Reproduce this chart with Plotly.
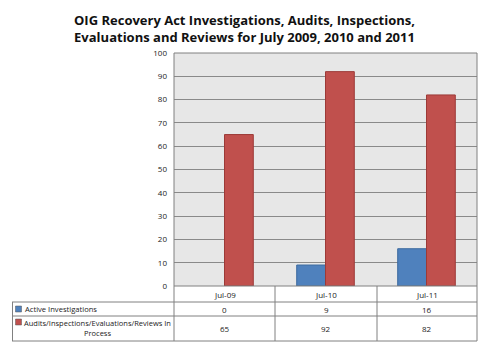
import plotly.graph_objects as go

categories = ["Jul-09", "Jul-10", "Jul-11"]
series_names = ["Active Investigations", "Audits/Inspections/Evaluations/Reviews In<br>Process"]
active = [0, 9, 16]
audits = [65, 92, 82]
y_ticks = [0, 10, 20, 30, 40, 50, 60, 70, 80, 90, 100]

W, H = 489, 348
L, R, T, B = 174, 477, 53, 286
PW, PH = R - L, B - T

def px(x):
    return (x - L) / PW

def py(y):
    return (B - y) / PH

FONT = "Open Sans"
fig = go.Figure()
fig.add_trace(go.Bar(x=categories, y=active, name=series_names[0],
                     marker=dict(color="#4F81BD",
                                 line=dict(color="#3B6A9F", width=[0 if v == 0 else 1 for v in active]))))
fig.add_trace(go.Bar(x=categories, y=audits, name=series_names[1],
                     marker=dict(color="#C0504D",
                                 line=dict(color="#9C3A37", width=[0 if v == 0 else 1 for v in audits]))))

fig.update_layout(
    width=W, height=H,
    margin=dict(l=L, r=W - R, t=T, b=H - B),
    paper_bgcolor="white", plot_bgcolor="#E7E7E7",
    barmode="group", bargap=0.43, bargroupgap=0,
    showlegend=False,
    font=dict(family=FONT, size=8, color="#222"),
    title=dict(text="OIG Recovery Act Investigations, Audits, Inspections,<br>Evaluations and Reviews for July 2009, 2010 and 2011",
               x=0.5, xanchor="center", y=1 - 25 / H, yanchor="middle",
               font=dict(family=FONT, size=13, color="#111", weight="bold")),
    xaxis=dict(showticklabels=False, showgrid=False, zeroline=False, showline=False, ticks=""),
    yaxis=dict(range=[0, 100], tickvals=y_ticks, showgrid=True, gridcolor="#8A8A8A", gridwidth=1,
               zeroline=False, showline=False, ticks="", ticklabelstandoff=6,
               tickfont=dict(size=8, color="#222")),
)

line_col = "#808080"
shapes = []
shapes.append(dict(type="rect", xref="paper", yref="paper", x0=0, x1=1, y0=0, y1=1,
                   line=dict(color=line_col, width=1)))
for yy, x0 in [(302, 12), (316, 12), (341, 12)]:
    shapes.append(dict(type="line", xref="paper", yref="paper", x0=px(x0), x1=px(R),
                       y0=py(yy), y1=py(yy), line=dict(color=line_col, width=1)))
col_edges = [174, 275, 377, 477]
for xx in col_edges:
    shapes.append(dict(type="line", xref="paper", yref="paper", x0=px(xx), x1=px(xx),
                       y0=py(286), y1=py(341), line=dict(color=line_col, width=1)))
shapes.append(dict(type="line", xref="paper", yref="paper", x0=px(12.5), x1=px(12.5),
                   y0=py(302), y1=py(341), line=dict(color=line_col, width=1)))
for yy, col in [(309, "#4F81BD"), (322, "#C0504D")]:
    shapes.append(dict(type="rect", xref="paper", yref="paper", x0=px(15.5), x1=px(21.5),
                       y0=py(yy + 3), y1=py(yy - 3), fillcolor=col, line=dict(color="#555", width=0.5)))
fig.update_layout(shapes=shapes)

ann = []
centers = [(col_edges[i] + col_edges[i + 1]) / 2 for i in range(3)]
for i, c in enumerate(categories):
    ann.append(dict(x=px(centers[i]), y=py(294), xref="paper", yref="paper", text=c,
                    showarrow=False, xanchor="center", yanchor="middle", font=dict(size=8)))
    ann.append(dict(x=px(centers[i]), y=py(309), xref="paper", yref="paper", text=str(active[i]),
                    showarrow=False, xanchor="center", yanchor="middle", font=dict(size=8)))
    ann.append(dict(x=px(centers[i]), y=py(328.5), xref="paper", yref="paper", text=str(audits[i]),
                    showarrow=False, xanchor="center", yanchor="middle", font=dict(size=8)))
ann.append(dict(x=px(23), y=py(309), xref="paper", yref="paper", text=series_names[0],
                showarrow=False, xanchor="left", yanchor="middle", font=dict(size=7.6)))
ann.append(dict(x=px(97.5), y=py(327.5), xref="paper", yref="paper", text=series_names[1],
                showarrow=False, xanchor="center", yanchor="middle", align="center", font=dict(size=7.5)))
fig.update_layout(annotations=ann)

fig.write_html("out.html")
